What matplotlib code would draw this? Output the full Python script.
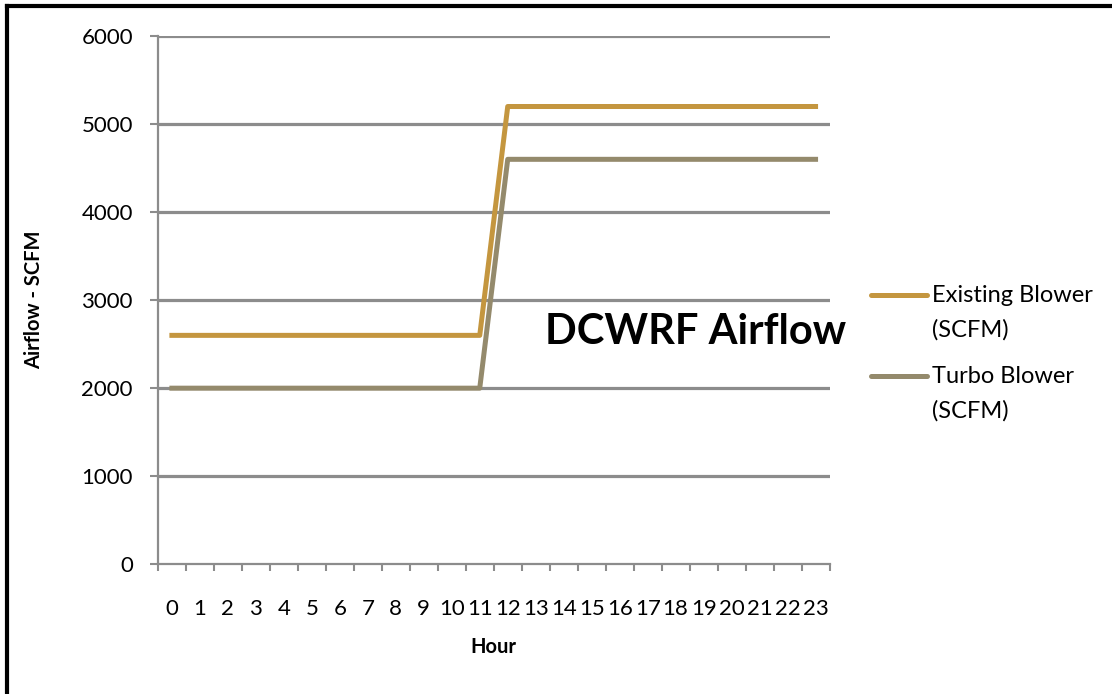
import matplotlib.pyplot as plt
import numpy as np

# data
hours = list(range(24))
existing_blower = [2600] * 12 + [5200] * 12
turbo_blower = [2000] * 12 + [4600] * 12
y_ticks = [0, 1000, 2000, 3000, 4000, 5000, 6000]
series_names = ['Existing Blower', 'Turbo Blower']
series_colors = ['#c4963f', '#948a6c']

plt.rcParams['font.family'] = ['Lato', 'DejaVu Sans']

fig = plt.figure(figsize=(11.12, 6.94), dpi=100)
ax = fig.add_axes([0.142, 0.187, 0.604, 0.761])

grid_col = '#8c8c8c'
for v in y_ticks[1:]:
    ax.axhline(v, color=grid_col, lw=2.3, zorder=1)

for vals, name, col in zip([existing_blower, turbo_blower], series_names, series_colors):
    ax.plot(hours, vals, color=col, lw=3.6, solid_joinstyle='round', zorder=3)

ax.set_xlim(-0.5, 23.5)
ax.set_ylim(0, 6000)
ax.set_yticks(y_ticks)
ax.set_xticks(hours)
ax.set_xticklabels([str(h) for h in hours])
ax.set_xticks(np.arange(-0.5, 24, 1), minor=True)
ax.tick_params(axis='x', which='major', length=0, pad=25, labelsize=16)
ax.tick_params(axis='x', which='minor', length=5, width=1.5, color=grid_col, direction='out')
ax.tick_params(axis='y', length=6, width=1.5, color=grid_col, labelsize=16, pad=12)

for s in ['top', 'right']:
    ax.spines[s].set_visible(False)
for s in ['left', 'bottom']:
    ax.spines[s].set_color(grid_col)
    ax.spines[s].set_linewidth(1.6)

ax.set_xlabel('Hour', fontsize=14.5, fontweight='bold', labelpad=13)
ax.set_ylabel('Airflow - SCFM', fontsize=14.5, fontweight='bold', labelpad=27)

ax.text(0.80, 0.44, 'DCWRF Airflow', transform=ax.transAxes, fontsize=30,
        fontweight='bold', ha='center', va='center', zorder=4)

# legend, drawn like the excel one (handle level with the first text line)
legend_y = [0.575, 0.458]
for name, col, ly in zip(series_names, series_colors, legend_y):
    fig.add_artist(plt.Line2D([0.783, 0.834], [ly, ly], transform=fig.transFigure,
                              color=col, lw=3.6, solid_capstyle='round'))
    fig.text(0.838, ly + 0.015, name + '\n(SCFM)', fontsize=17, ha='left', va='top',
             linespacing=1.76, transform=fig.transFigure)

# border on left and top like the source image
fig.add_artist(plt.Line2D([0.006, 0.006], [0, 0.992], transform=fig.transFigure, color='black', lw=3))
fig.add_artist(plt.Line2D([0.006, 1], [0.991, 0.991], transform=fig.transFigure, color='black', lw=3))

fig.savefig('out.png', dpi=100)
